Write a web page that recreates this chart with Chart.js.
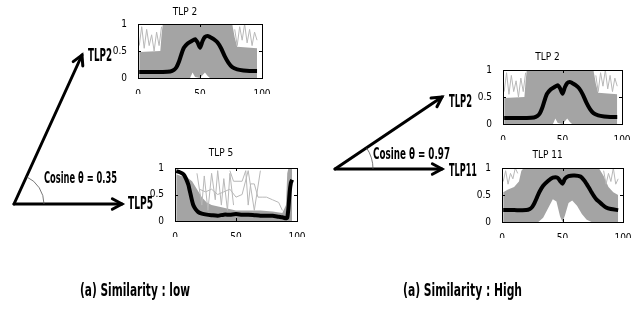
<!DOCTYPE html>
<html>
<head>
<meta charset="utf-8">
<script src="https://cdn.jsdelivr.net/npm/chart.js@4"></script>
<style>
  body { margin: 0; background: #fff; }
  #stage { position: relative; width: 643px; height: 309px; overflow: hidden; background: #fff; }
  canvas.panel { position: absolute; }
  svg { position: absolute; left: 0; top: 0; }
  .lbl { position: absolute; white-space: nowrap; font-family: "Liberation Sans Narrow", "DejaVu Sans Condensed", Arial, sans-serif;
         font-weight: bold; color: #000; transform-origin: 0 50%; line-height: 1; }
</style>
</head>
<body>
<div id="stage">
  <canvas id="c1" class="panel"></canvas>
  <canvas id="c2" class="panel"></canvas>
  <canvas id="c3" class="panel"></canvas>
  <canvas id="c4" class="panel"></canvas>
  <svg id="arrows" width="643" height="309"></svg>
</div>
<script>
// ---- data ----
// TLP 2 (used in both panels)
const tlp2X    = [1, 10, 20, 26, 29, 31, 33, 35, 37, 40, 43, 46, 48, 50, 52, 54, 56, 58, 61, 64, 67, 70, 73, 76, 80, 85, 90, 96];
const tlp2Mean = [0.11, 0.11, 0.11, 0.12, 0.15, 0.2, 0.3, 0.44, 0.56, 0.64, 0.68, 0.72, 0.66, 0.56, 0.68, 0.76, 0.78, 0.76, 0.72, 0.66, 0.55, 0.4, 0.28, 0.2, 0.16, 0.14, 0.13, 0.13];
const tlp2EnvX  = [1, 18, 19, 20, 42, 44, 46, 50, 54, 56, 58, 76, 78, 80, 96];
const tlp2Upper = [0.48, 0.5, 0.8, 1, 1, 1, 1, 1, 1, 1, 1, 1, 0.75, 0.58, 0.55];
const tlp2Lower = [0, 0, 0, 0, 0, 0.1, 0.02, 0, 0.1, 0.04, 0, 0, 0, 0, 0];
const tlp2ThinA_X = [1, 3, 5, 7, 9, 11, 13, 15, 17, 19];
const tlp2ThinA   = [0.6, 0.95, 0.55, 0.9, 0.6, 0.8, 0.5, 0.85, 0.6, 0.95];
const tlp2ThinB_X = [78, 80, 82, 84, 86, 88, 90, 92, 94, 96];
const tlp2ThinB   = [0.9, 0.6, 0.95, 0.7, 1, 0.65, 0.9, 0.6, 0.85, 0.7];

// TLP 5
const tlp5X    = [1, 4, 7, 9, 11, 12, 13, 14, 15, 17, 19, 22, 26, 30, 35, 40, 45, 50, 55, 60, 65, 70, 75, 80, 85, 88, 91, 92, 93, 94, 95, 96];
const tlp5Mean = [0.94, 0.92, 0.88, 0.8, 0.68, 0.58, 0.48, 0.38, 0.3, 0.22, 0.17, 0.14, 0.12, 0.11, 0.1, 0.12, 0.12, 0.13, 0.12, 0.12, 0.11, 0.1, 0.1, 0.1, 0.08, 0.07, 0.05, 0.06, 0.25, 0.55, 0.72, 0.78];
const tlp5EnvX  = [1, 5, 10, 14, 18, 22, 26, 30, 40, 50, 60, 70, 80, 88, 91, 92, 93, 96];
const tlp5Upper = [0.88, 0.85, 0.82, 0.75, 0.6, 0.45, 0.35, 0.3, 0.25, 0.2, 0.2, 0.2, 0.18, 0.15, 0.3, 0.9, 1, 1];
const tlp5Lower = [0, 0, 0, 0, 0, 0, 0, 0, 0, 0, 0, 0, 0, 0, 0, 0, 0, 0];
const tlp5ThinA_X = [18, 22, 24, 27, 30, 33, 35, 38, 40, 43, 45, 48];
const tlp5ThinA   = [0.9, 0.3, 0.85, 0.2, 0.9, 0.4, 0.95, 0.3, 0.8, 0.2, 0.9, 0.3];
const tlp5ThinB_X = [45, 48, 50, 55, 58, 60, 62, 65, 68, 72, 75, 80, 85, 88];
const tlp5ThinB   = [0.95, 0.75, 0.75, 0.75, 0.95, 0.3, 0.7, 0.7, 0.45, 0.45, 0.45, 0.4, 0.35, 0.2];
const tlp5ThinC_X = [20, 25, 30, 35, 40, 45, 50, 55, 60, 65, 70];
const tlp5ThinC   = [0.6, 0.55, 0.6, 0.5, 0.55, 0.6, 0.45, 0.5, 0.95, 0.2, 0.95];

// TLP 11
const tlp11X    = [1, 10, 20, 23, 25, 27, 29, 31, 34, 38, 42, 46, 48, 50, 52, 55, 60, 65, 68, 70, 72, 74, 76, 78, 80, 83, 86, 90, 96];
const tlp11Mean = [0.22, 0.22, 0.22, 0.24, 0.28, 0.36, 0.46, 0.56, 0.67, 0.76, 0.82, 0.82, 0.76, 0.71, 0.8, 0.85, 0.86, 0.84, 0.77, 0.7, 0.63, 0.55, 0.48, 0.42, 0.38, 0.32, 0.27, 0.24, 0.22];
const tlp11EnvX  = [1, 5, 10, 14, 16, 18, 30, 34, 38, 42, 45, 48, 50, 52, 55, 58, 62, 66, 70, 74, 80, 84, 88, 92, 96];
const tlp11Upper = [0.55, 0.6, 0.65, 0.75, 0.95, 1, 1, 1, 1, 1, 1, 1, 1, 1, 1, 1, 1, 1, 1, 1, 1, 0.85, 0.65, 0.55, 0.5];
const tlp11Lower = [0, 0, 0, 0, 0, 0, 0, 0.08, 0.25, 0.42, 0.38, 0.1, 0, 0.12, 0.35, 0.4, 0.3, 0.15, 0.04, 0, 0, 0, 0, 0, 0];
const tlp11ThinA_X = [1, 3, 5, 7, 9, 11, 13];
const tlp11ThinA   = [0.75, 0.95, 0.7, 0.9, 0.8, 1, 0.9];
const tlp11ThinB_X = [84, 86, 88, 90, 92, 94, 96];
const tlp11ThinB   = [0.95, 0.7, 0.9, 0.75, 1, 0.7, 0.8];

const xTicks = [0, 50, 100];
const yTicks = [0, 0.5, 1];

// ---- layout ----
const AXW = 30, XH = 16, TOP = 24, PADR = 12;
const FONT = '"Liberation Sans Narrow", "DejaVu Sans Condensed", Arial, sans-serif';

function pts(xs, ys) { return xs.map((x, i) => ({ x: x, y: ys[i] })); }

const boxPlugin = {
    id: 'matlabBox',
    afterDraw(chart) {
        const ctx = chart.ctx, a = chart.chartArea;
        const xs = chart.scales.x, ys = chart.scales.y;
        ctx.save();
        ctx.strokeStyle = '#000';
        ctx.lineWidth = 1;
        ctx.strokeRect(Math.round(a.left) + 0.5, Math.round(a.top) + 0.5, Math.round(a.right - a.left), Math.round(a.bottom - a.top));
        ctx.beginPath();
        xTicks.forEach(v => {
            const px = Math.round(xs.getPixelForValue(v)) + 0.5;
            ctx.moveTo(px, a.bottom); ctx.lineTo(px, a.bottom - 3);
            ctx.moveTo(px, a.top); ctx.lineTo(px, a.top + 3);
        });
        yTicks.forEach(v => {
            const py = Math.round(ys.getPixelForValue(v)) + 0.5;
            ctx.moveTo(a.left, py); ctx.lineTo(a.left + 3, py);
            ctx.moveTo(a.right, py); ctx.lineTo(a.right - 3, py);
        });
        ctx.stroke();
        ctx.restore();
    }
};

function makePanel(id, box, title, padTop, d) {
    const cv = document.getElementById(id);
    const W = box.r - box.l + AXW + PADR, H = box.b - box.t + TOP + XH;
    cv.width = W; cv.height = H;
    cv.style.left = (box.l - AXW) + 'px';
    cv.style.top = (box.t - TOP) + 'px';

    // lower "order" is drawn on top: mean line over thin lines over the grey band
    const datasets = [
        { data: pts(d.envX, d.upper), borderWidth: 0, backgroundColor: '#a4a4a4', fill: '+1', pointRadius: 0, tension: 0, order: 10 },
        { data: pts(d.envX, d.lower), borderWidth: 0, backgroundColor: '#a4a4a4', fill: false, pointRadius: 0, tension: 0, order: 9 }
    ];
    d.thin.forEach(t => datasets.push({ data: pts(t[0], t[1]), borderColor: '#b8b8b8', borderWidth: 1, fill: false, pointRadius: 0, tension: 0, order: 5 }));
    datasets.push({ data: pts(d.x, d.mean), borderColor: '#000', borderWidth: 4, fill: false, pointRadius: 0, tension: 0.2, order: 0 });

    new Chart(cv, {
        type: 'line',
        data: { datasets: datasets },
        options: {
            responsive: false,
            animation: false,
            layout: { padding: { left: 0, right: PADR, top: 0, bottom: 0 } },
            plugins: {
                legend: { display: false },
                tooltip: { enabled: false },
                title: { display: true, text: title, color: '#000', font: { family: FONT, size: 10, weight: 'normal', lineHeight: 1.2 },
                         padding: { top: padTop, bottom: TOP - 12 - padTop } }
            },
            scales: {
                x: {
                    type: 'linear', min: 0, max: 100,
                    afterFit(s) { s.height = XH; },
                    afterBuildTicks(s) { s.ticks = xTicks.map(v => ({ value: v })); },
                    grid: { display: false }, border: { display: false },
                    ticks: { color: '#000', font: { family: FONT, size: 10 }, padding: 2, maxRotation: 0 }
                },
                y: {
                    min: 0, max: 1,
                    afterFit(s) { s.width = AXW; },
                    afterBuildTicks(s) { s.ticks = yTicks.map(v => ({ value: v })); },
                    grid: { display: false }, border: { display: false },
                    ticks: { color: '#000', font: { family: FONT, size: 10 }, padding: 3, callback: v => String(v) }
                }
            }
        },
        plugins: [boxPlugin]
    });
}

const tlp2Data = { x: tlp2X, mean: tlp2Mean, envX: tlp2EnvX, upper: tlp2Upper, lower: tlp2Lower,
                   thin: [[tlp2ThinA_X, tlp2ThinA], [tlp2ThinB_X, tlp2ThinB]] };

makePanel('c1', { l: 138, t: 24, r: 262, b: 78 }, 'TLP 2', 6, tlp2Data);
makePanel('c2', { l: 175, t: 168, r: 297, b: 221 }, 'TLP 5', 3, {
    x: tlp5X, mean: tlp5Mean, envX: tlp5EnvX, upper: tlp5Upper, lower: tlp5Lower,
    thin: [[tlp5ThinA_X, tlp5ThinA], [tlp5ThinB_X, tlp5ThinB], [tlp5ThinC_X, tlp5ThinC]] });
makePanel('c3', { l: 503, t: 70, r: 622, b: 124 }, 'TLP 2', 5, tlp2Data);
makePanel('c4', { l: 502, t: 168, r: 623, b: 222 }, 'TLP 11', 5, {
    x: tlp11X, mean: tlp11Mean, envX: tlp11EnvX, upper: tlp11Upper, lower: tlp11Lower,
    thin: [[tlp11ThinA_X, tlp11ThinA], [tlp11ThinB_X, tlp11ThinB]] });

// ---- vector arrows ----
const svg = document.getElementById('arrows');
const NS = 'http://www.w3.org/2000/svg';
function el(tag, attrs) {
    const e = document.createElementNS(NS, tag);
    for (const k in attrs) e.setAttribute(k, attrs[k]);
    svg.appendChild(e);
}
function arrow(x1, y1, x2, y2) {
    el('line', { x1: x1, y1: y1, x2: x2, y2: y2, stroke: '#000', 'stroke-width': 3, 'stroke-linecap': 'round' });
    const ang = Math.atan2(y2 - y1, x2 - x1), L = 11, s = 0.5;
    const p1 = [x2 - L * Math.cos(ang - s), y2 - L * Math.sin(ang - s)];
    const p2 = [x2 - L * Math.cos(ang + s), y2 - L * Math.sin(ang + s)];
    el('polyline', { points: `${p1[0]},${p1[1]} ${x2},${y2} ${p2[0]},${p2[1]}`, fill: 'none', stroke: '#000', 'stroke-width': 3, 'stroke-linecap': 'round', 'stroke-linejoin': 'miter' });
}
function arc(cx, cy, r, x2, y2) {
    const ang = Math.atan2(cy - y2, x2 - cx);
    const ex = cx + r * Math.cos(ang), ey = cy - r * Math.sin(ang);
    el('path', { d: `M ${cx + r} ${cy} A ${r} ${r} 0 0 0 ${ex} ${ey}`, fill: 'none', stroke: '#555', 'stroke-width': 0.8 });
}
arrow(14, 204, 82, 55);
arrow(14, 204, 122, 204);
arc(14, 204, 30, 82, 55);
arrow(335, 169, 442, 97);
arrow(335, 169, 442, 169);
arc(335, 169, 38, 442, 97);

// ---- labels ----
const stage = document.getElementById('stage');
function label(text, x, yc, size, w) {
    const d = document.createElement('div');
    d.className = 'lbl';
    d.textContent = text;
    d.style.fontSize = size + 'px';
    stage.appendChild(d);
    const r = d.getBoundingClientRect();
    d.style.left = x + 'px';
    d.style.top = (yc - r.height / 2) + 'px';
    d.style.transform = `scaleX(${w / r.width})`;
}
label('TLP2', 88, 55, 17, 24);
label('TLP5', 128, 203, 17, 25);
label('Cosine \u03B8 = 0.35', 44, 178, 16, 73);
label('TLP2', 449, 101, 17, 23);
label('TLP11', 449, 170, 17, 28);
label('Cosine \u03B8 = 0.97', 373, 154, 16, 77);
label('(a) Similarity : low', 80, 290, 17, 110);
label('(a) Similarity : High', 403, 290, 17, 119);
</script>
</body>
</html>
